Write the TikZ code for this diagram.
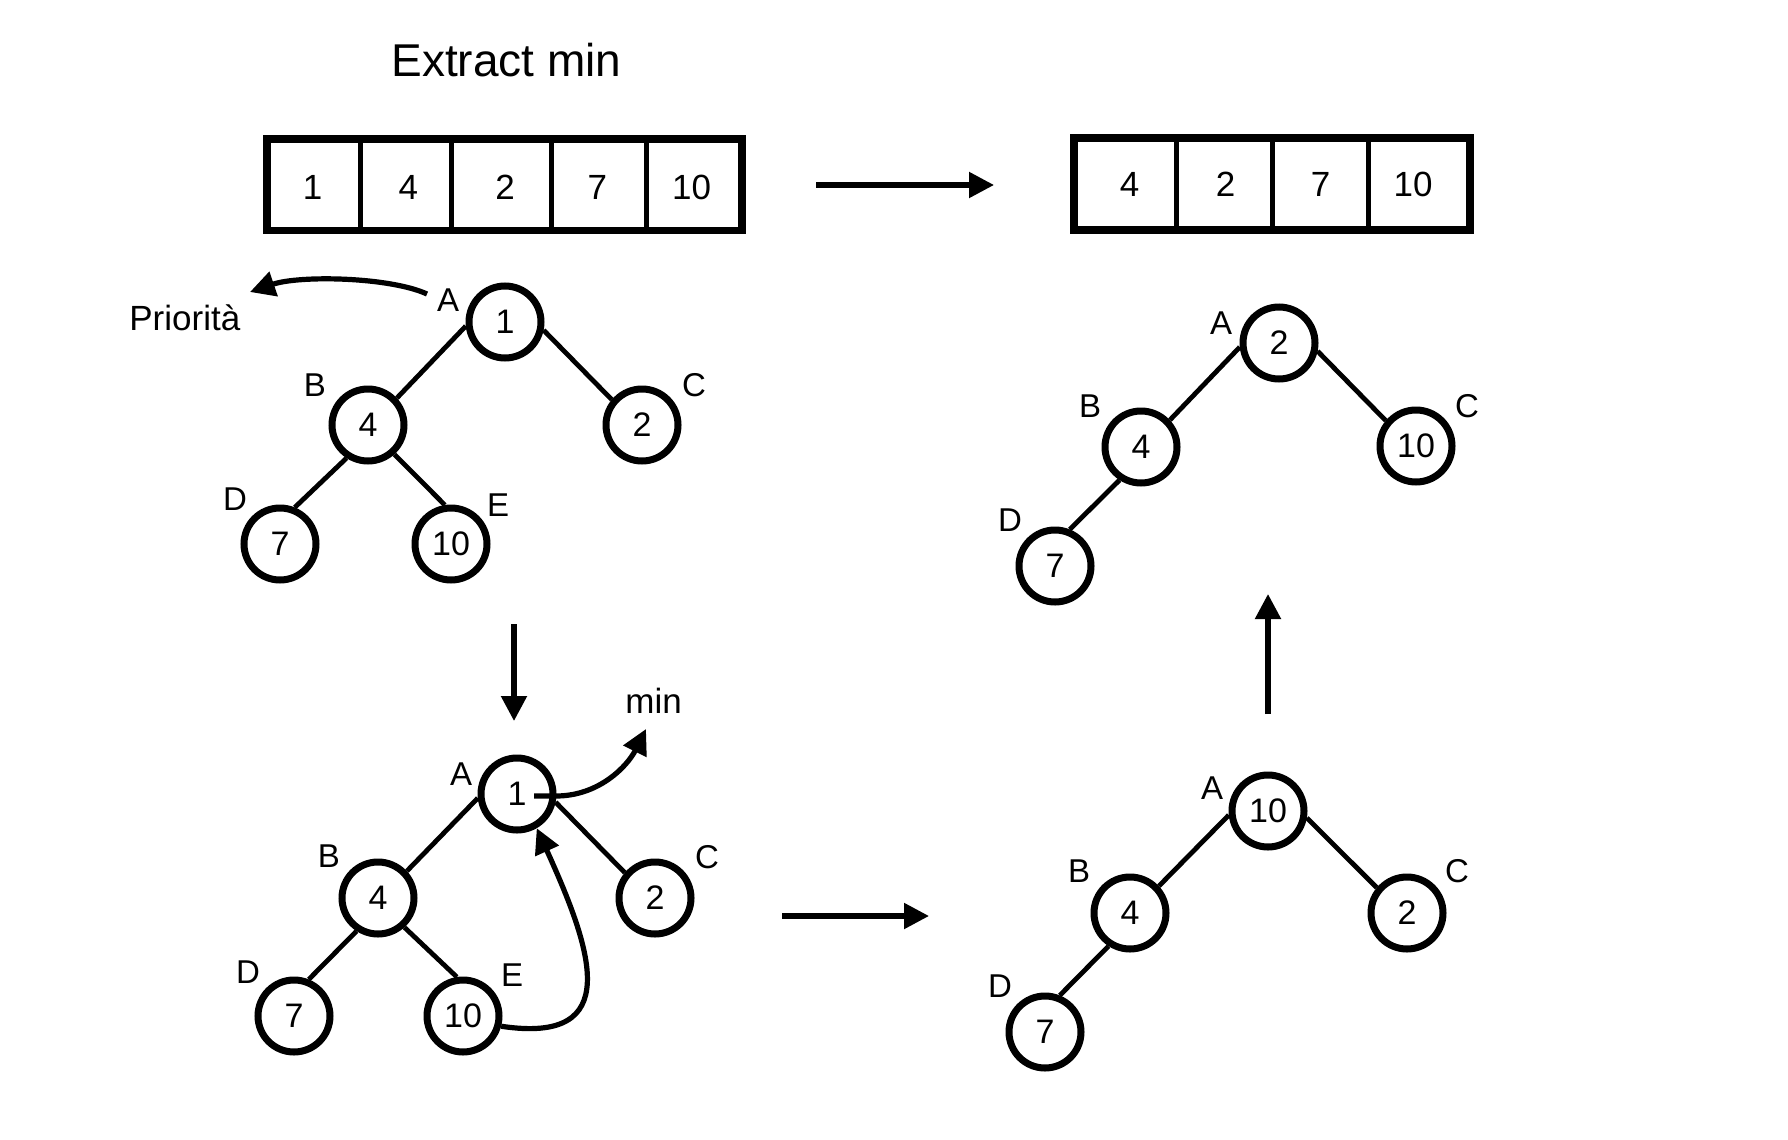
\documentclass[tikz,border=0pt]{standalone}
\usepackage{fontspec}
\setmainfont{Liberation Sans}
\usetikzlibrary{arrows.meta}
\begin{document}
\begin{tikzpicture}[x=0.5pt,y=-0.5pt,
  vtx/.style={circle,draw,line width=3.5pt,minimum size=36pt,inner sep=0pt,font=\fontsize{17}{20}\selectfont},
  lbl/.style={inner sep=0pt,font=\fontsize{16.5}{20}\selectfont},
  word/.style={inner sep=0pt,anchor=base west,font=\fontsize{17.5}{20}\selectfont},
  digit/.style={inner sep=0pt,font=\fontsize{17.5}{20}\selectfont},
  edgeline/.style={line width=2.4pt},
  arr/.style={line width=2.6pt,-{Triangle[length=12.5pt,width=12.5pt]}},
  cellbox/.style={draw,line width=2.5pt,inner sep=0pt,outer sep=0pt},
  outerbox/.style={line width=3.85pt}
]
\useasboundingbox (0,0) rectangle (1788,1140);

% title
\node[inner sep=0pt,anchor=base west,font=\fontsize{23}{28}\selectfont] (title) at (391,76) {Extract min};

% array 1
\node[cellbox,minimum width=46.8pt,minimum height=45.85pt] (a1) at (314,184.65) {};
\node[cellbox,minimum width=45.5pt,minimum height=45.85pt] (a2) at (406.3,184.65) {};
\node[cellbox,minimum width=50pt,minimum height=45.85pt] (a3) at (501.8,184.65) {};
\node[cellbox,minimum width=47.5pt,minimum height=45.85pt] (a4) at (599.3,184.65) {};
\node[cellbox,minimum width=47.65pt,minimum height=45.85pt] (a5) at (694.45,184.65) {};
\draw[outerbox] (a1.north west) rectangle (a5.south east);
\node[digit] (x1) at (312.5,187) {1};
\node[digit] (x2) at (408.3,187) {4};
\node[digit] (x3) at (505,187) {2};
\node[digit] (x4) at (597.3,187) {7};
\node[digit] (x5) at (691.7,187) {10};

% array 2
\node[cellbox,minimum width=51.45pt,minimum height=46pt] (b1) at (1125.35,184) {};
\node[cellbox,minimum width=47.7pt,minimum height=46pt] (b2) at (1224.5,184) {};
\node[cellbox,minimum width=48pt,minimum height=46pt] (b3) at (1320.2,184) {};
\node[cellbox,minimum width=51pt,minimum height=46pt] (b4) at (1419.2,184) {};
\draw[outerbox] (b1.north west) rectangle (b4.south east);
\node[digit] (y1) at (1129.7,184) {4};
\node[digit] (y2) at (1225.7,184) {2};
\node[digit] (y3) at (1320.5,184) {7};
\node[digit] (y4) at (1413,184) {10};

% top arrow
\coordinate (t0) at (816,185);
\coordinate (t1) at (994,185);
\draw[arr] (t0) -- (t1);

% tree 1 (top-left)
\node[vtx] (pA) at (505,322) {1};
\node[vtx] (pB) at (368,425) {4};
\node[vtx] (pC) at (642,425) {2};
\node[vtx] (pD) at (280,544) {7};
\node[vtx] (pE) at (451,544) {10};
\draw[edgeline] (pA.186) -- (pB.43);
\draw[edgeline] (pA.-12) -- (pC.140);
\draw[edgeline] (pB.237) -- (pD.68);
\draw[edgeline] (pB.-48) -- (pE.99);
\node[lbl] (plA) at (448,300) {A};
\node[lbl] (plB) at (315,385) {B};
\node[lbl] (plC) at (694,385) {C};
\node[lbl] (plD) at (235,499) {D};
\node[lbl] (plE) at (498,505) {E};
\node[word] (prio) at (129,330) {Priorità};
\coordinate (pr0) at (427,294);
\coordinate (pr1) at (250,292);
\draw[arr] (pr0) .. controls (390,277) and (300,275) .. (pr1);

% down arrow
\coordinate (d0) at (514,624);
\coordinate (d1) at (514,721);
\draw[arr] (d0) -- (d1);

% tree 2 (bottom-left)
\node[vtx] (qA) at (517,794) {1};
\node[vtx] (qB) at (378,898) {4};
\node[vtx] (qC) at (655,898) {2};
\node[vtx] (qD) at (294,1016) {7};
\node[vtx] (qE) at (463,1016) {10};
\draw[edgeline] (qA.186) -- (qB.43);
\draw[edgeline] (qA.-12) -- (qC.140);
\draw[edgeline] (qB.237) -- (qD.68);
\draw[edgeline] (qB.-48) -- (qE.99);
\node[lbl] (qlA) at (461,774) {A};
\node[lbl] (qlB) at (329,856) {B};
\node[lbl] (qlC) at (707,857) {C};
\node[lbl] (qlD) at (248,972) {D};
\node[lbl] (qlE) at (512,975) {E};
\node[word] (minlbl) at (625,713) {min};
\coordinate (m0) at (534,796);
\coordinate (m1) at (646,729);
\draw[arr] (m0) -- (556,796) .. controls (600,796) and (628,765) .. (m1);
\draw[arr] (qE.-15) .. controls (625,1045) and (592,950) .. (qA.-60);

% bottom arrow
\coordinate (r0) at (782,916);
\coordinate (r1) at (929,916);
\draw[arr] (r0) -- (r1);

% tree 3 (bottom-right)
\node[vtx] (sA) at (1268,811) {10};
\node[vtx] (sB) at (1130,913) {4};
\node[vtx] (sC) at (1407,913) {2};
\node[vtx] (sD) at (1045,1032) {7};
\draw[edgeline] (sA.186) -- (sB.43);
\draw[edgeline] (sA.-10) -- (sC.140);
\draw[edgeline] (sB.237) -- (sD.68);
\node[lbl] (slA) at (1212,788) {A};
\node[lbl] (slB) at (1079,871) {B};
\node[lbl] (slC) at (1457,871) {C};
\node[lbl] (slD) at (1000,986) {D};

% up arrow
\coordinate (u0) at (1268,714);
\coordinate (u1) at (1268,594);
\draw[arr] (u0) -- (u1);

% tree 4 (top-right)
\node[vtx] (tA) at (1279,343) {2};
\node[vtx] (tB) at (1141,447) {4};
\node[vtx] (tC) at (1416,446) {10};
\node[vtx] (tD) at (1055,566) {7};
\draw[edgeline] (tA.186) -- (tB.43);
\draw[edgeline] (tA.-12) -- (tC.140);
\draw[edgeline] (tB.237) -- (tD.68);
\node[lbl] (tlA) at (1221,323) {A};
\node[lbl] (tlB) at (1090,406) {B};
\node[lbl] (tlC) at (1467,406) {C};
\node[lbl] (tlD) at (1010,520) {D};
\end{tikzpicture}
\end{document}
